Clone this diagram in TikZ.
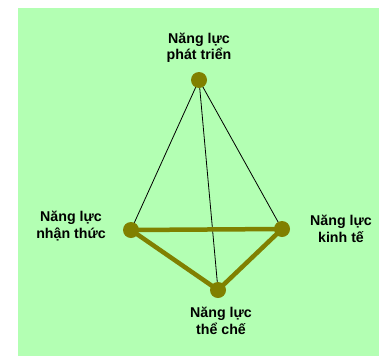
\documentclass[tikz,border=0pt]{standalone}
\usepackage{fontspec}
\setmainfont{Liberation Sans}
\definecolor{bggreen}{HTML}{B3FFB3}
\definecolor{olivedot}{HTML}{808000}
\begin{document}
\begin{tikzpicture}[x=1pt,y=-1pt,
  dot/.style={circle,fill=olivedot,inner sep=0pt,minimum size=16pt},
  lbl/.style={align=center,font=\fontsize{14.2}{16.5}\selectfont\bfseries,inner sep=0pt},
  thin/.style={draw=black,line width=0.8pt},
  thick/.style={draw=olivedot,line width=4.5pt}]
\useasboundingbox (0,0) rectangle (379,356);
\fill[bggreen] (18,8) rectangle (379,356);
\coordinate (T) at (199,80);
\coordinate (L) at (131,230);
\coordinate (R) at (282,229);
\coordinate (B) at (218,290);
\draw[thin] (T) -- (L);
\draw[thin] (T) -- (R);
\draw[thin] (T) -- (B);
\draw[thick] (L) -- (R);
\draw[thick] (L) -- (B);
\draw[thick] (R) -- (B);
\node[dot] (t) at (T) {};
\node[dot] (l) at (L) {};
\node[dot] (r) at (R) {};
\node[dot] (b) at (B) {};
\node[lbl] (tl) at (199,48) {Năng lực\\phát triển};
\node[lbl] (ll) at (71,226) {Năng lực\\nhận thức};
\node[lbl] (rl) at (341,229) {Năng lực\\kinh tế};
\node[lbl] (bl) at (221,321) {Năng lực\\thể chế};
\end{tikzpicture}
\end{document}
